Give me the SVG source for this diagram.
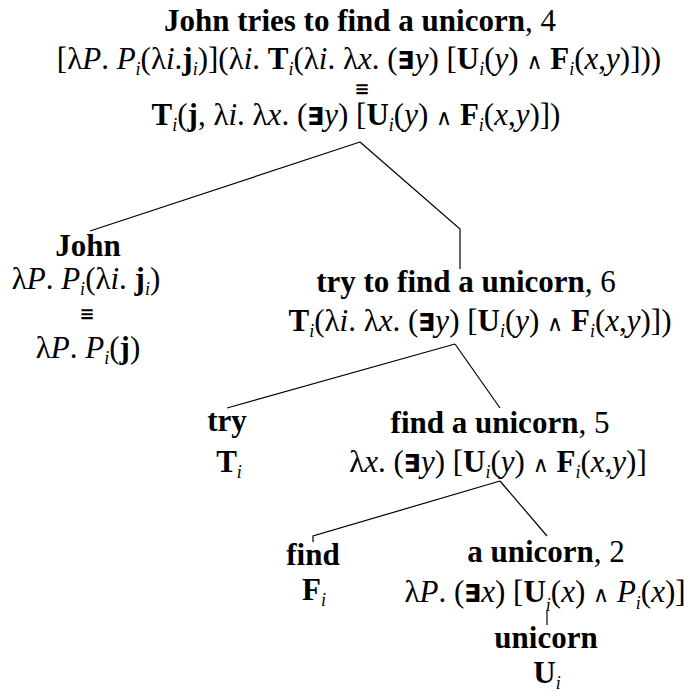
<svg xmlns="http://www.w3.org/2000/svg" width="696" height="693" viewBox="0 0 696 693">
<style>
text{font-family:"Liberation Serif","Times New Roman",serif;font-size:31px;fill:#000;text-anchor:middle}
.b{font-weight:bold}
.i{font-style:italic}
.s{font-style:italic;font-size:18px}
.q{font-family:"DejaVu Sans",sans-serif;font-size:25px;font-weight:bold}
.w{font-family:"DejaVu Sans",sans-serif;font-size:22px}
.eq{font-family:"DejaVu Sans",sans-serif;font-size:18px;font-weight:bold}
.c line,.c polyline{stroke:#000;stroke-width:1.2;fill:none}
</style>
<rect width="696" height="693" fill="#fff"/>
<g class="c" id="connectors">
<line x1="360" y1="142" x2="90" y2="231"/>
<polyline points="360,142 460,229 460,269"/>
<line x1="455" y1="344" x2="227" y2="408"/>
<line x1="455" y1="344" x2="500" y2="408"/>
<polyline points="500,481 313,536 313,542"/>
<line x1="500" y1="481" x2="547" y2="536"/>
<line x1="547" y1="610" x2="547" y2="625"/>
</g>
<g id="root">
<text x="360" y="31"><tspan class="b">John tries to find a unicorn</tspan>, 4</text>
<text x="359" y="69">[λ<tspan class="i">P</tspan>. <tspan class="i">P</tspan><tspan class="s" dy="6">i</tspan><tspan dy="-6">(λ</tspan><tspan class="i">i</tspan>.<tspan class="b">j</tspan><tspan class="s" dy="6">i</tspan><tspan dy="-6">)](λ</tspan><tspan class="i">i</tspan>. <tspan class="b">T</tspan><tspan class="s" dy="6">i</tspan><tspan dy="-6">(λ</tspan><tspan class="i">i</tspan>. λ<tspan class="i">x</tspan>. (<tspan class="q">∃</tspan><tspan class="i">y</tspan>) [<tspan class="b">U</tspan><tspan class="s" dy="6">i</tspan><tspan dy="-6">(</tspan><tspan class="i">y</tspan>) <tspan class="w">∧</tspan> <tspan class="b">F</tspan><tspan class="s" dy="6">i</tspan><tspan dy="-6">(</tspan><tspan class="i">x</tspan>,<tspan class="i">y</tspan>)]))</text>
<text class="eq" x="362" y="95">≡</text>
<text x="356" y="125"><tspan class="b">T</tspan><tspan class="s" dy="6">i</tspan><tspan dy="-6">(</tspan><tspan class="b">j</tspan>, λ<tspan class="i">i</tspan>. λ<tspan class="i">x</tspan>. (<tspan class="q">∃</tspan><tspan class="i">y</tspan>) [<tspan class="b">U</tspan><tspan class="s" dy="6">i</tspan><tspan dy="-6">(</tspan><tspan class="i">y</tspan>) <tspan class="w">∧</tspan> <tspan class="b">F</tspan><tspan class="s" dy="6">i</tspan><tspan dy="-6">(</tspan><tspan class="i">x</tspan>,<tspan class="i">y</tspan>)])</text>
</g>
<g id="john">
<text class="b" x="88" y="256">John</text>
<text x="86" y="289">λ<tspan class="i">P</tspan>. <tspan class="i">P</tspan><tspan class="s" dy="6">i</tspan><tspan dy="-6">(λ</tspan><tspan class="i">i</tspan>. <tspan class="b">j</tspan><tspan class="s" dy="6">i</tspan><tspan dy="-6">)</tspan></text>
<text class="eq" x="87" y="320">≡</text>
<text x="88" y="358">λ<tspan class="i">P</tspan>. <tspan class="i">P</tspan><tspan class="s" dy="6">i</tspan><tspan dy="-6">(</tspan><tspan class="b">j</tspan>)</text>
</g>
<g id="try-to-find">
<text x="466" y="292"><tspan class="b">try to find a unicorn</tspan>, 6</text>
<text x="480" y="331"><tspan class="b">T</tspan><tspan class="s" dy="6">i</tspan><tspan dy="-6">(λ</tspan><tspan class="i">i</tspan>. λ<tspan class="i">x</tspan>. (<tspan class="q">∃</tspan><tspan class="i">y</tspan>) [<tspan class="b">U</tspan><tspan class="s" dy="6">i</tspan><tspan dy="-6">(</tspan><tspan class="i">y</tspan>) <tspan class="w">∧</tspan> <tspan class="b">F</tspan><tspan class="s" dy="6">i</tspan><tspan dy="-6">(</tspan><tspan class="i">x</tspan>,<tspan class="i">y</tspan>)])</text>
</g>
<g id="try">
<text class="b" x="227" y="431">try</text>
<text x="229" y="472"><tspan class="b">T</tspan><tspan class="s" dy="6">i</tspan></text>
</g>
<g id="find-a-unicorn">
<text x="500" y="433"><tspan class="b">find a unicorn</tspan>, 5</text>
<text x="498" y="472">λ<tspan class="i">x</tspan>. (<tspan class="q">∃</tspan><tspan class="i">y</tspan>) [<tspan class="b">U</tspan><tspan class="s" dy="6">i</tspan><tspan dy="-6">(</tspan><tspan class="i">y</tspan>) <tspan class="w">∧</tspan> <tspan class="b">F</tspan><tspan class="s" dy="6">i</tspan><tspan dy="-6">(</tspan><tspan class="i">x</tspan>,<tspan class="i">y</tspan>)]</text>
</g>
<g id="find">
<text class="b" x="313" y="565">find</text>
<text x="314" y="600"><tspan class="b">F</tspan><tspan class="s" dy="6">i</tspan></text>
</g>
<g id="a-unicorn">
<text x="546" y="562"><tspan class="b">a unicorn</tspan>, 2</text>
<text x="545" y="602">λ<tspan class="i">P</tspan>. (<tspan class="q">∃</tspan><tspan class="i">x</tspan>) [<tspan class="b">U</tspan><tspan class="s" dy="9">i</tspan><tspan dy="-9">(</tspan><tspan class="i">x</tspan>) <tspan class="w">∧</tspan> <tspan class="i">P</tspan><tspan class="s" dy="7">i</tspan><tspan dy="-7">(</tspan><tspan class="i">x</tspan>)]</text>
</g>
<g id="unicorn">
<text class="b" x="546" y="648">unicorn</text>
<text x="547" y="683"><tspan class="b">U</tspan><tspan class="s" dy="6">i</tspan></text>
</g>
</svg>
